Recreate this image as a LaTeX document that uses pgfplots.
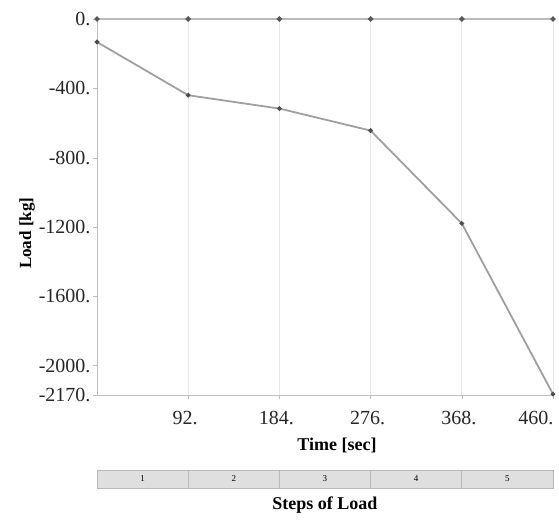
\documentclass[border=0pt]{standalone}
\usepackage{pgfplots}
\pgfplotsset{compat=1.18}
\usepackage{fontspec}
\setmainfont{Liberation Serif}
\begin{document}
\begin{tikzpicture}
\path[use as bounding box] (-97bp,-127bp) rectangle (462bp,395bp);
\begin{axis}[name=main, scale only axis, width=456bp, height=376bp,
  at={(0,0)}, anchor=south west,
  xmin=0, xmax=460, ymin=-2170, ymax=0,
  xtick={92,184,276,368}, xticklabels={92.,184.,276.,368.},
  extra x ticks={460}, extra x tick labels={460.},
  extra x tick style={xticklabel style={anchor=north east, xshift=7bp}},
  ytick={0,-400,-800,-1200,-1600,-2000,-2170},
  yticklabels={0.,-400.,-800.,-1200.,-1600.,-2000.,-2170.},
  xmajorgrids, grid style={gray!18, line width=0.8pt},
  axis line style={gray!50, line width=1pt},
  tick style={gray!50}, tick align=outside, major tick length=4bp, tick pos=left,
  ticklabel style={font=\fontsize{20bp}{22bp}\selectfont, text=black!85},
  yticklabel style={xshift=1bp},
  xticklabel style={yshift=-9bp, xshift=-3bp},
  xlabel={\textbf{Time [sec]}}, ylabel={\textbf{Load [kg]}},
  xlabel style={font=\fontsize{18bp}{20bp}\selectfont, yshift=2bp, xshift=12bp},
  ylabel style={font=\fontsize{17bp}{19bp}\selectfont, at={(ticklabel cs:0.43)}, yshift=-3bp},
  clip=false]
\addplot[gray!55, line width=2.4pt, mark=*, mark size=1.3pt, mark options={fill=black!65, draw=black!65}]
  coordinates {(0,0) (92,0) (184,0) (276,0) (368,0) (460,0)};
\addplot[gray!75, line width=1.8pt, mark=*, mark size=1.3pt, mark options={fill=black!70, draw=black!70}]
  coordinates {(0,-133) (92,-440) (184,-517) (276,-644) (368,-1180) (460,-2165)};
\end{axis}
\begin{axis}[name=strip, scale only axis, width=456bp, height=18bp,
  at={(0bp,-75bp)}, anchor=north west,
  xmin=0, xmax=460, ymin=0, ymax=1,
  axis background/.style={fill=gray!25},
  axis line style={gray!55, line width=0.8pt},
  xtick={92,184,276,368}, xticklabels={}, ytick=\empty,
  xmajorgrids, grid style={gray!55, line width=0.8pt},
  major tick length=0pt,
  xlabel={\textbf{Steps of Load}},
  xlabel style={font=\fontsize{18bp}{20bp}\selectfont, yshift=2bp},
  clip=false]
\node[font=\fontsize{9bp}{10bp}\selectfont] at (axis cs:46,0.5) {1};
\node[font=\fontsize{9bp}{10bp}\selectfont] at (axis cs:138,0.5) {2};
\node[font=\fontsize{9bp}{10bp}\selectfont] at (axis cs:230,0.5) {3};
\node[font=\fontsize{9bp}{10bp}\selectfont] at (axis cs:322,0.5) {4};
\node[font=\fontsize{9bp}{10bp}\selectfont] at (axis cs:414,0.5) {5};
\end{axis}
\end{tikzpicture}
\end{document}
